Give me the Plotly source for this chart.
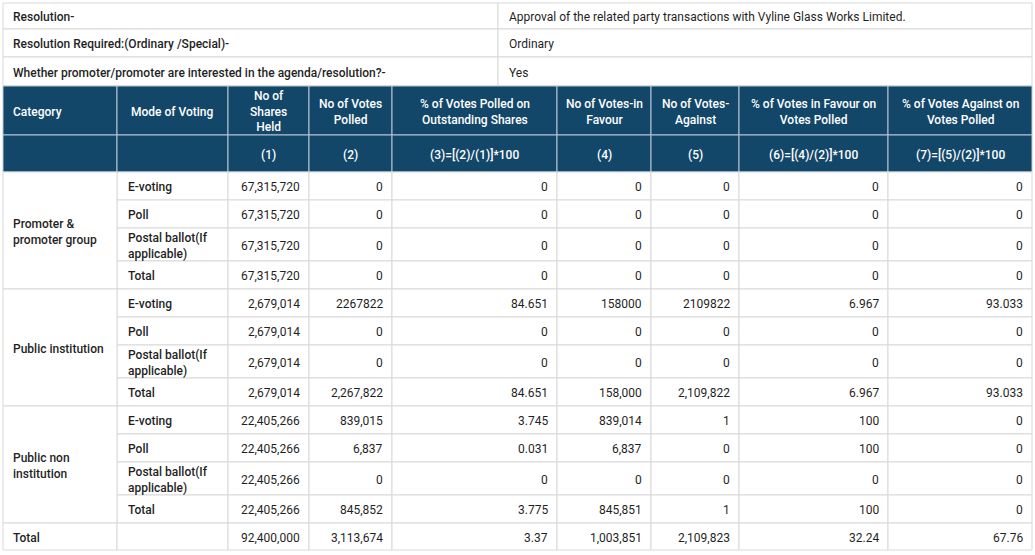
import plotly.graph_objects as go

# ---------------- data ----------------
info_labels = ["Resolution-",
               "Resolution Required:(Ordinary /Special)-",
               "Whether promoter/promoter are interested in the agenda/resolution?-"]
info_values = ["Approval of the related party transactions with Vyline Glass Works Limited.",
               "Ordinary", "Yes"]

headers = ["Category", "Mode of Voting", "No of<br>Shares<br>Held", "No of Votes<br>Polled",
           "% of Votes Polled on<br>Outstanding Shares", "No of Votes-in<br>Favour",
           "No of Votes-<br>Against", "% of Votes in Favour on<br>Votes Polled",
           "% of Votes Against on<br>Votes Polled"]
sub_headers = ["", "", "(1)", "(2)", "(3)=[(2)/(1)]*100", "(4)", "(5)",
               "(6)=[(4)/(2)]*100", "(7)=[(5)/(2)]*100"]

categories = ["Promoter &<br>promoter group", "Public institution", "Public non<br>institution"]
modes = ["E-voting", "Poll", "Postal ballot(If<br>applicable)", "Total"]

shares_held = [["67,315,720"] * 4, ["2,679,014"] * 4, ["22,405,266"] * 4]
votes_polled = [["0", "0", "0", "0"], ["2267822", "0", "0", "2,267,822"],
                ["839,015", "6,837", "0", "845,852"]]
pct_polled = [["0", "0", "0", "0"], ["84.651", "0", "0", "84.651"],
              ["3.745", "0.031", "0", "3.775"]]
votes_favour = [["0", "0", "0", "0"], ["158000", "0", "0", "158,000"],
                ["839,014", "6,837", "0", "845,851"]]
votes_against = [["0", "0", "0", "0"], ["2109822", "0", "0", "2,109,822"],
                 ["1", "0", "0", "1"]]
pct_favour = [["0", "0", "0", "0"], ["6.967", "0", "0", "6.967"],
              ["100", "100", "0", "100"]]
pct_against = [["0", "0", "0", "0"], ["93.033", "0", "0", "93.033"],
               ["0", "0", "0", "0"]]

grand_total = ["92,400,000", "3,113,674", "3.37", "1,003,851", "2,109,823", "32.24", "67.76"]

# ---------------- layout geometry ----------------
W, H = 1035, 555
col_edges = [3, 117, 228, 309, 392, 557, 651, 739, 888, 1032]
info_split = 498
info_rows = [3, 29, 57, 86]
header_rows = [86, 135, 172]
row_heights = [28, 28, 33, 28]
total_row_h = 27

NAVY = "#13476a"
BORDER = "#d9d9d9"
HBORDER = "#b9c6d2"
TXT = "#1f1f1f"
FONT = "Roboto, Arial, sans-serif"
FS = 12
PAD = 8

shapes = []
annotations = []


def rect(x0, y0, x1, y1, fill="white", line=BORDER, width=1):
    shapes.append(dict(type="rect", xref="x", yref="y", x0=x0, x1=x1, y0=y0, y1=y1,
                       fillcolor=fill, line=dict(color=line, width=width), layer="below"))


def text(s, x, y, anchor="left", color=TXT, bold=False):
    annotations.append(dict(text=s, x=x, y=y, xref="x", yref="y", xanchor=anchor,
                            yanchor="middle", showarrow=False, align=anchor, yshift=-1,
                            font=dict(family=FONT, size=FS, color=color,
                                      weight=500 if bold else 400),
                            borderpad=0))


# info section
for i in range(3):
    y0, y1 = info_rows[i], info_rows[i + 1]
    rect(col_edges[0], y0, info_split, y1)
    rect(info_split, y0, col_edges[-1], y1)
    text(info_labels[i], col_edges[0] + 9, (y0 + y1) / 2, bold=True)
    text(info_values[i], info_split + 10, (y0 + y1) / 2)

# header
for r, labels in enumerate([headers, sub_headers]):
    y0, y1 = header_rows[r], header_rows[r + 1]
    for c in range(9):
        x0, x1 = col_edges[c], col_edges[c + 1]
        rect(x0, y0, x1, y1, fill=NAVY, line=HBORDER)
        if labels[c]:
            if c == 0:
                text(labels[c], x0 + 9, (y0 + y1) / 2, color="white", bold=True)
            else:
                text(labels[c], (x0 + x1) / 2, (y0 + y1) / 2, anchor="center",
                     color="white", bold=True)

# body
series = [shares_held, votes_polled, pct_polled, votes_favour, votes_against,
          pct_favour, pct_against]
y = header_rows[-1]
for g, cat in enumerate(categories):
    gy0 = y
    for m, mode in enumerate(modes):
        y0, y1 = y, y + row_heights[m]
        ym = (y0 + y1) / 2
        rect(col_edges[1], y0, col_edges[2], y1)
        text(mode, col_edges[1] + 10, ym, bold=True)
        for k, s in enumerate(series):
            x0, x1 = col_edges[k + 2], col_edges[k + 3]
            rect(x0, y0, x1, y1)
            text(s[g][m], x1 - PAD, ym, anchor="right")
        y = y1
    rect(col_edges[0], gy0, col_edges[1], y)
    text(cat, col_edges[0] + 9, (gy0 + y) / 2, bold=True)

# grand total row
y0, y1 = y, y + total_row_h
ym = (y0 + y1) / 2
rect(col_edges[0], y0, col_edges[1], y1)
rect(col_edges[1], y0, col_edges[2], y1)
text("Total", col_edges[0] + 9, ym, bold=True)
for k, v in enumerate(grand_total):
    x0, x1 = col_edges[k + 2], col_edges[k + 3]
    rect(x0, y0, x1, y1)
    text(v, x1 - PAD, ym, anchor="right")

fig = go.Figure()
fig.update_layout(
    width=W, height=H,
    margin=dict(l=0, r=0, t=0, b=0),
    paper_bgcolor="white", plot_bgcolor="white",
    xaxis=dict(range=[0, W], visible=False, fixedrange=True),
    yaxis=dict(range=[H, 0], visible=False, fixedrange=True),
    shapes=shapes, annotations=annotations,
    showlegend=False,
)
fig.write_html("out.html", config={"displayModeBar": False},
               post_script="document.body.style.margin='0';document.body.style.overflow='hidden';")
